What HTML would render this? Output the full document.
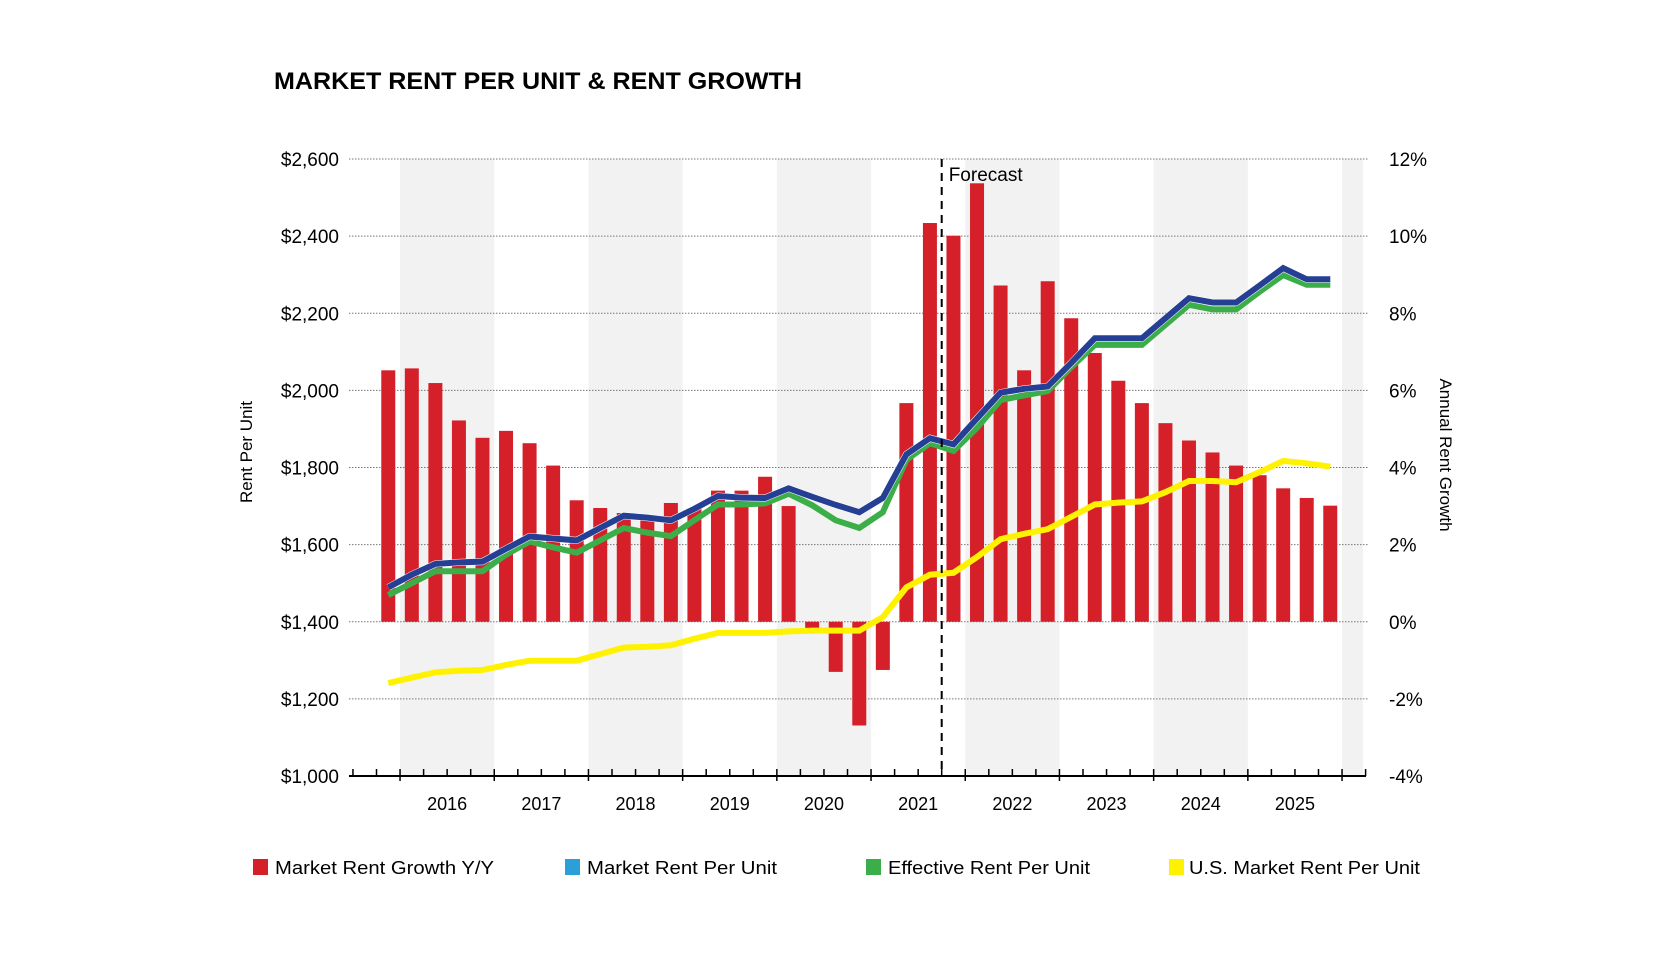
<!DOCTYPE html>
<html><head><meta charset="utf-8"><style>
html,body{margin:0;padding:0;background:#fff;}
svg{display:block;font-family:"Liberation Sans",sans-serif;}
</style></head><body>
<svg id="chart" width="1667" height="968" viewBox="0 0 1667 968" xmlns="http://www.w3.org/2000/svg">
<text x="274" y="89" font-size="24" font-weight="bold" textLength="528" lengthAdjust="spacingAndGlyphs">MARKET RENT PER UNIT &amp; RENT GROWTH</text>
<g id="bands"></g><g id="grid"></g><g id="bars"></g><g id="lines"></g><g id="axes"></g>
<text transform="translate(252,452) rotate(-90)" text-anchor="middle" font-size="17">Rent Per Unit</text>
<text transform="translate(1440,455) rotate(90)" text-anchor="middle" font-size="17">Annual Rent Growth</text>
<g>
<rect x="253" y="859" width="15" height="16" fill="#d52029"/>
<text x="275" y="874" font-size="18" textLength="219" lengthAdjust="spacingAndGlyphs">Market Rent Growth Y/Y</text>
<rect x="565" y="859" width="15" height="16" fill="#2a9fd8"/>
<text x="587" y="874" font-size="18" textLength="190" lengthAdjust="spacingAndGlyphs">Market Rent Per Unit</text>
<rect x="866" y="859" width="15" height="16" fill="#3cae49"/>
<text x="888" y="874" font-size="18" textLength="202" lengthAdjust="spacingAndGlyphs">Effective Rent Per Unit</text>
<rect x="1169" y="859" width="15" height="16" fill="#fff200"/>
<text x="1189" y="874" font-size="18" textLength="231" lengthAdjust="spacingAndGlyphs">U.S. Market Rent Per Unit</text>
</g>
</svg>
<script>
const years = ["2016","2017","2018","2019","2020","2021","2022","2023","2024","2025"];
const leftTicks = [1000,1200,1400,1600,1800,2000,2200,2400,2600];
const rightTicks = [-4,-2,0,2,4,6,8,10,12];
const growth = [6.52,6.57,6.19,5.22,4.77,4.95,4.63,4.05,3.15,2.95,2.82,2.75,3.08,2.95,3.40,3.40,3.76,3.00,-0.2,-1.3,-2.69,-1.25,5.67,10.34,10.01,11.37,8.72,6.52,8.83,7.87,6.97,6.25,5.67,5.15,4.70,4.39,4.05,3.80,3.46,3.21,3.01];
const marketRent = [1489,1522,1550,1554,1556,1589,1621,1616,1611,1643,1675,1670,1663,1693,1726,1722,1721,1746,1724,1703,1684,1721,1834,1876,1860,1927,1994,2004,2010,2071,2135,2135,2135,2187,2239,2228,2228,2272,2317,2288,2288];
const effectiveRent = [1469,1500,1531,1531,1531,1574,1608,1593,1579,1611,1643,1631,1622,1663,1704,1704,1707,1732,1702,1663,1643,1684,1820,1863,1843,1903,1975,1987,1998,2060,2118,2118,2118,2170,2222,2210,2210,2256,2299,2274,2274];
const usRent = [1241,1255,1269,1273,1275,1288,1299,1299,1299,1316,1333,1335,1339,1356,1371,1371,1371,1375,1377,1377,1377,1412,1489,1522,1527,1568,1614,1628,1640,1672,1704,1709,1712,1736,1765,1765,1762,1788,1817,1811,1802];
const forecastIndex = 24; // 2021Q4

const NS="http://www.w3.org/2000/svg";
const X0=376.5, QW=23.55, Y0=776, PXD=617/1600, GL=349, GR=1368;
function xq(k){return X0+QW*(k+0.5);}
function xb(k){return X0+QW*k;}
function yL(v){return Y0-(v-1000)*PXD;}
function yR(p){return yL(1400+p*100);}
function mk(tag,attrs,parent){const e=document.createElementNS(NS,tag);for(const a in attrs)e.setAttribute(a,attrs[a]);parent.appendChild(e);return e;}
const g={bands:document.getElementById('bands'),grid:document.getElementById('grid'),bars:document.getElementById('bars'),lines:document.getElementById('lines'),axes:document.getElementById('axes')};

for(let yi=0;yi<=10;yi+=2){
  const x1=xb(1+yi*4), x2=Math.min(xb(5+yi*4),1363);
  const r=mk('rect',{x:x1,y:159,width:x2-x1,height:Y0-159,fill:'#f2f2f2'},g.bands);
  
  
}
leftTicks.forEach((v,i)=>{
  const y=yL(v);
  if(v>1000){const l=mk('line',{x1:GL,x2:GR,y1:y,y2:y,stroke:'#777','stroke-width':1,'stroke-dasharray':'1.5 1.5'},g.grid);
  
  }
  const t=mk('text',{x:339,y:y+7,'text-anchor':'end','font-size':19},g.axes);
  t.textContent='$'+v.toLocaleString('en-US');
  
  
});
rightTicks.forEach(p=>{
  const t=mk('text',{x:1389,y:yR(p)+7,'font-size':19},g.axes);
  t.textContent=p+'%';
  
  
});
growth.forEach((p,k)=>{
  const y1=yR(Math.max(p,0)), y2=yR(Math.min(p,0));
  const r=mk('rect',{x:xq(k)-7,y:y1,width:14,height:y2-y1,fill:'#d52029'},g.bars);
  
  
});
function line(arr,color,w,name){
  const d=arr.map((v,k)=>(k?'L':'M')+xq(k).toFixed(1)+','+yL(v).toFixed(1)).join('');
  const p=mk('path',{d:d,fill:'none',stroke:color,'stroke-width':w,'stroke-linejoin':'miter'},g.lines);
  
  
}
line(usRent,'#fff200',6,'line-us-market-rent');
line(effectiveRent,'#3cae49',6,'line-effective-rent');
line(marketRent,'#ffffff',7,'line-market-rent-outline');
line(marketRent,'#253f94',6,'line-market-rent');
const ax=mk('line',{x1:GL,x2:1366,y1:Y0,y2:Y0,stroke:'#000','stroke-width':2},g.axes);


for(let k=-1;k<=42;k++){
  const x=xb(k); if(x<350||x>1366) continue;
  const major=((k-1)%4===0);
  const t=mk('line',{x1:x,x2:x,y1:Y0-7,y2:major?Y0+5:Y0,stroke:'#000','stroke-width':1.5},g.axes);
  
  
}
years.forEach((yr,i)=>{
  const t=mk('text',{x:(xb(1+i*4)+xb(5+i*4))/2,y:810,'text-anchor':'middle','font-size':18},g.axes);
  t.textContent=yr;
  
  
});
const fl=mk('line',{x1:xb(forecastIndex),x2:xb(forecastIndex),y1:159,y2:Y0,stroke:'#000','stroke-width':2,'stroke-dasharray':'8 6'},g.axes);


const ft=mk('text',{x:xb(forecastIndex)+7,y:181,'font-size':19},g.axes);
ft.textContent='Forecast';


</script>
</body></html>
